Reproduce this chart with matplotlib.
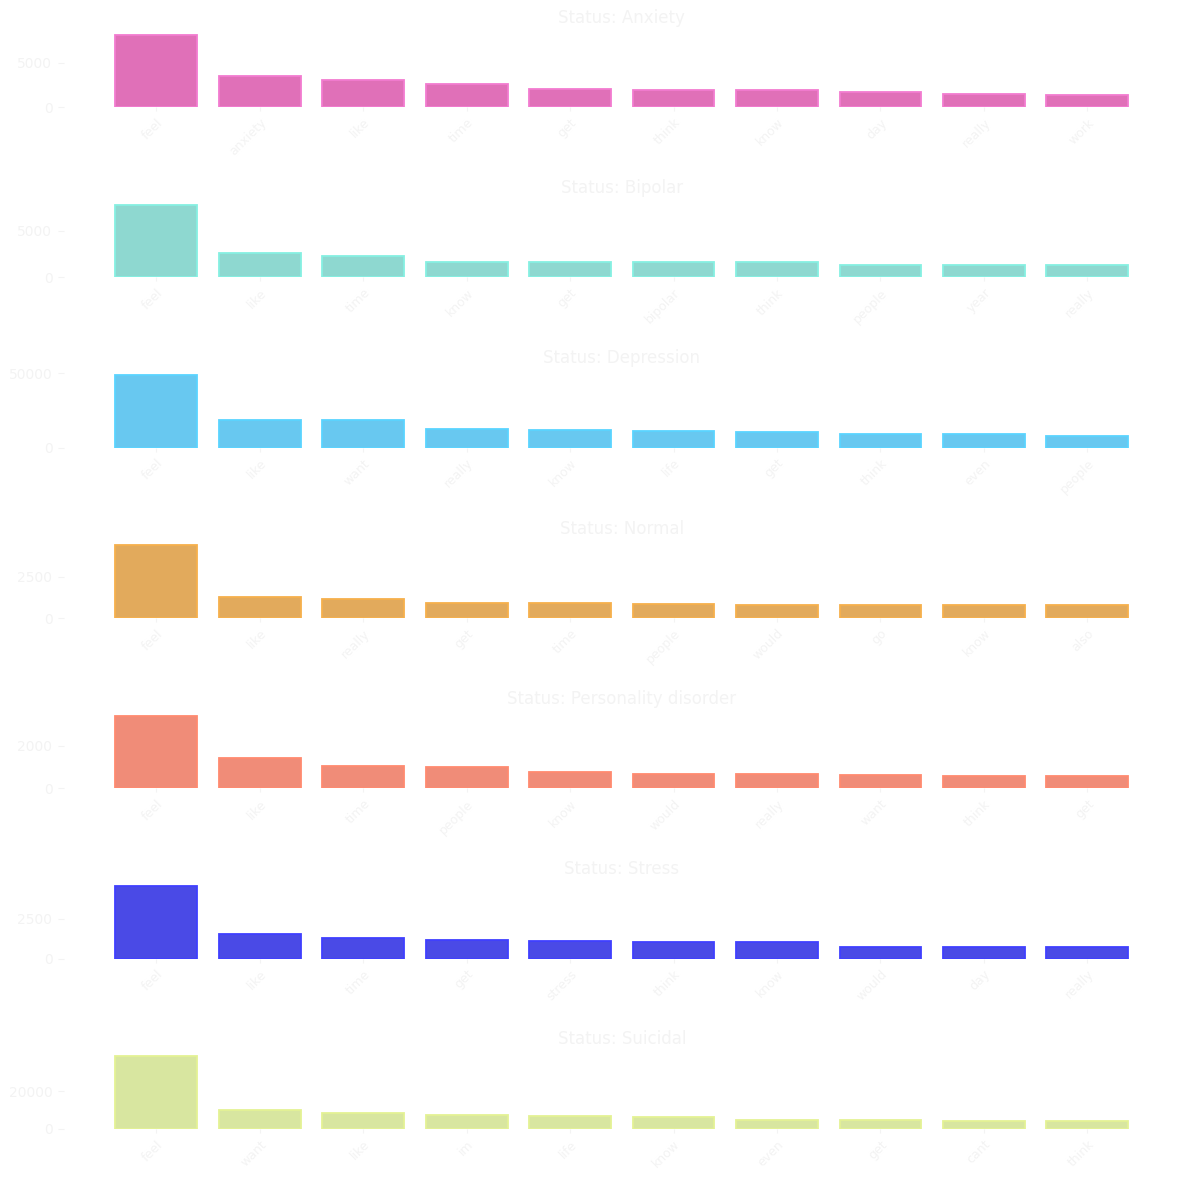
import matplotlib.pyplot as plt
import numpy as np

# one panel per status, top 10 words by count
statuses = ["Anxiety", "Bipolar", "Depression", "Normal",
            "Personality disorder", "Stress", "Suicidal"]

anxiety_words = ["feel", "anxiety", "like", "time", "get", "think", "know", "day", "really", "work"]
anxiety_counts = [8220, 3470, 3020, 2570, 2000, 1890, 1890, 1660, 1440, 1320]

bipolar_words = ["feel", "like", "time", "know", "get", "bipolar", "think", "people", "year", "really"]
bipolar_counts = [7770, 2660, 2340, 1700, 1700, 1600, 1600, 1280, 1280, 1280]

depression_words = ["feel", "like", "want", "really", "know", "life", "get", "think", "even", "people"]
depression_counts = [48650, 18240, 18240, 12840, 12160, 11490, 10810, 9460, 9460, 8110]

normal_words = ["feel", "like", "really", "get", "time", "people", "would", "go", "know", "also"]
normal_counts = [4390, 1280, 1160, 915, 915, 854, 793, 793, 793, 793]

personality_words = ["feel", "like", "time", "people", "know", "would", "really", "want", "think", "get"]
personality_counts = [3400, 1440, 1070, 1020, 744, 651, 651, 605, 558, 558]

stress_words = ["feel", "like", "time", "get", "stress", "think", "know", "would", "day", "really"]
stress_counts = [4560, 1560, 1310, 1190, 1120, 1060, 1060, 750, 750, 750]

suicidal_words = ["feel", "want", "like", "im", "life", "know", "even", "get", "cant", "think"]
suicidal_counts = [38380, 10270, 8650, 7570, 7030, 6490, 4860, 4860, 4320, 4320]

ytick_marks = [5000, 5000, 50000, 2500, 2000, 2500, 20000]

all_words = [anxiety_words, bipolar_words, depression_words, normal_words,
             personality_words, stress_words, suicidal_words]
all_counts = [anxiety_counts, bipolar_counts, depression_counts, normal_counts,
              personality_counts, stress_counts, suicidal_counts]

fills = ["#e070b8", "#8ed8d0", "#68c8f0", "#e2aa5c", "#f08c78", "#4a4ae6", "#d8e6a0"]
edges = ["#f27cd0", "#86f0e2", "#5ad4ff", "#f6b04c", "#ff8a70", "#4040ff", "#e4f294"]

txt = "#f3f3f3"

fig, axes = plt.subplots(7, 1, figsize=(11.89, 11.89), dpi=100)
fig.subplots_adjust(left=0.088, right=0.958, top=0.974, bottom=0.0505, hspace=1.237)

for i, ax in enumerate(axes):
    x = np.arange(len(all_words[i]))
    ax.bar(x, all_counts[i], width=0.79, color=fills[i], edgecolor=edges[i], linewidth=1.3)
    ax.set_xlim(-0.5, 9.5)
    ax.set_ylim(0, max(all_counts[i]) * 1.05)
    ax.set_xticks(x)
    ax.set_xticklabels(all_words[i], rotation=45, ha="right", rotation_mode="anchor",
                       fontsize=9, color=txt)
    ax.set_yticks([0, ytick_marks[i]])
    ax.set_yticklabels([str(0), str(ytick_marks[i])], fontsize=8.5, color=txt)
    ax.tick_params(axis="y", colors=txt, length=4.3, pad=4.3)
    ax.tick_params(axis="x", colors=txt, length=3)
    # y axis pushed out to the left, like a despined seaborn plot
    ax.spines["left"].set_position(("outward", 29))
    for s in ax.spines.values():
        s.set_visible(False)
    ax.set_title("Status: " + statuses[i], fontsize=12, color=txt, pad=6)

plt.savefig("out.png", dpi=100, facecolor="white")
